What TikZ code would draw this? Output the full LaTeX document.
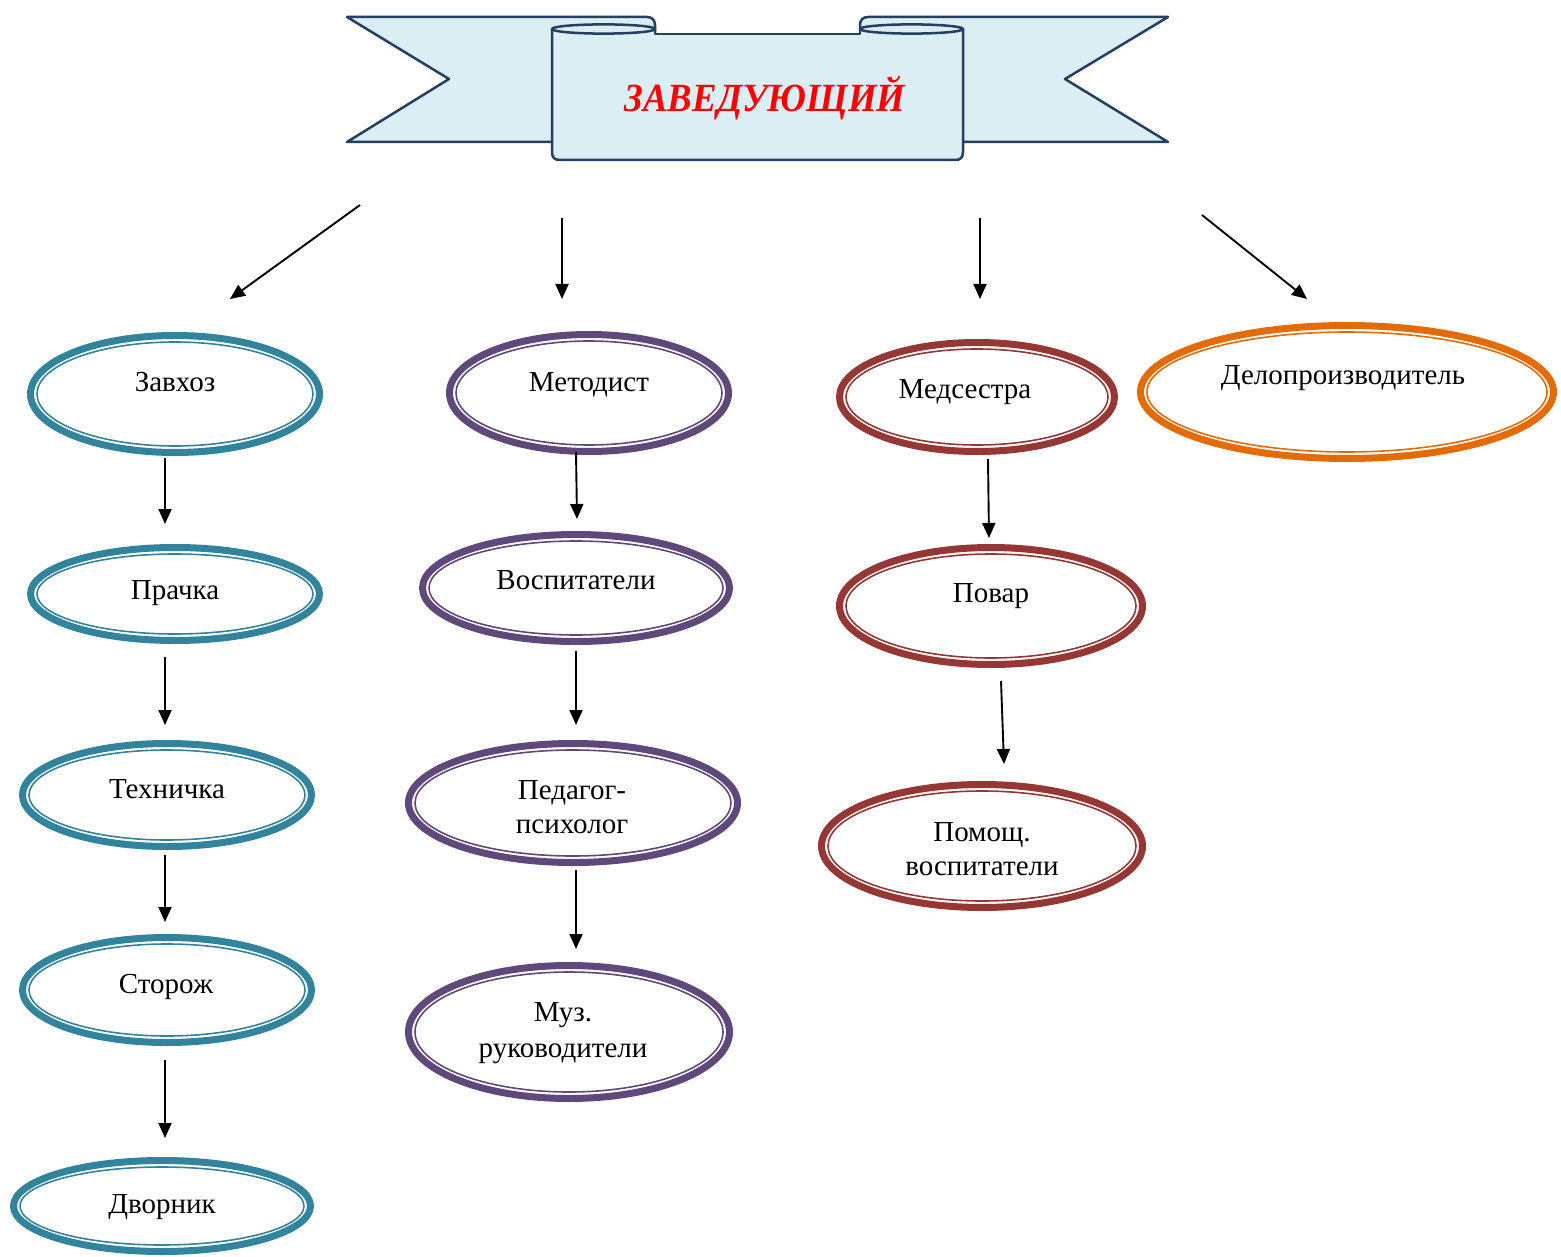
\documentclass[tikz,border=0pt]{standalone}
\usepackage{fontspec}
\setmainfont{Liberation Serif}
\usetikzlibrary{shapes.geometric,arrows.meta,calc}
\definecolor{cteal}{HTML}{31849B}
\definecolor{cpurp}{HTML}{5F497A}
\definecolor{cred}{HTML}{953735}
\definecolor{corng}{HTML}{E36C09}
\definecolor{bfill}{HTML}{DBEEF4}
\definecolor{bline}{HTML}{243F60}
\tikzset{
  oval/.style={ellipse, line width=7pt, inner sep=0pt, fill=white},
  lbl/.style={font=\fontsize{29}{34}\selectfont, align=center, text height=19pt, text depth=0pt, inner sep=0pt},
  arr/.style={-{Triangle[length=15pt,width=13pt]}, line width=1.9pt, black},
  banner/.style={fill=bfill, draw=bline, line width=2.5pt, line join=round},
}
\newcommand\OvalBox[6]{%
  \node[oval, draw=#6, minimum width={2*(#4-3.5)}, minimum height={2*(#5-3.5)}] (#1) at (#2,#3) {};
  \draw[#6, line width=1.6pt] (#1.center) ellipse [x radius=#4-10, y radius=#5-10];
}
\begin{document}
\begin{tikzpicture}[x=1pt,y=-1pt]
\fill[white] (0,0) rectangle (1561,1257);
\useasboundingbox (0,0) rectangle (1561,1257);
% banner back pieces
\path[banner] (347,17) -- (647,17) .. controls (652,17) and (655,20) .. (655,25) -- (655,142) -- (347,142) -- (449,79) -- cycle;
\path[banner] (1168,17) -- (868,17) .. controls (863,17) and (860,20) .. (860,25) -- (860,142) -- (1168,142) -- (1065,79) -- cycle;
% central panel
\fill[bfill] (552,29) -- (552,152) .. controls (552,158) and (555,160) .. (560,160) -- (955,160) .. controls (960,160) and (963,158) .. (963,152) -- (963,29) -- (860,29) -- (860,34) -- (655,34) -- (655,29) -- cycle;
\draw[bline, line width=2.5pt, line join=round] (552,29) -- (552,152) .. controls (552,158) and (555,160) .. (560,160) -- (955,160) .. controls (960,160) and (963,158) .. (963,152) -- (963,29);
\draw[bline, line width=2.5pt, line join=round] (655,25) -- (655,34) -- (860,34) -- (860,25);
\path[banner] (603.5,29) ellipse [x radius=51.5, y radius=4.6];
\path[banner] (911.5,29) ellipse [x radius=51.5, y radius=4.6];
\node[font=\fontsize{40}{40}\selectfont\bfseries\itshape, text=red, text height=27pt, text depth=0pt, inner sep=0pt, xscale=0.92] (head) at (765,98) {ЗАВЕДУЮЩИЙ};

% column 1
\OvalBox{zav}{175}{394}{148}{62}{cteal}
\OvalBox{pra}{175}{594}{148}{50}{cteal}
\OvalBox{teh}{167}{795}{148}{55}{cteal}
\OvalBox{sto}{167}{990}{148}{56}{cteal}
\OvalBox{dvo}{162}{1206}{152}{49}{cteal}
% column 2
\OvalBox{met}{589}{393}{143}{62}{cpurp}
\OvalBox{vos}{576}{588}{157}{57}{cpurp}
\OvalBox{ped}{573}{803}{168}{63}{cpurp}
\OvalBox{muz}{569}{1032}{164}{70}{cpurp}
% column 3
\OvalBox{med}{977}{397}{141}{58}{cred}
\OvalBox{pov}{991}{606}{155}{62}{cred}
\OvalBox{pom}{982}{846}{164}{65}{cred}
% column 4
\OvalBox{del}{1347}{392}{210}{70}{corng}

% labels
\node[lbl] (zav-t) at (175,382) {Завхоз};
\node[lbl] (pra-t) at (175,590) {Прачка};
\node[lbl] (teh-t) at (167,789) {Техничка};
\node[lbl] (sto-t) at (166,984) {Сторож};
\node[lbl] (dvo-t) at (162,1204) {Дворник};
\node[lbl] (met-t) at (589,382) {Методист};
\node[lbl] (vos-t) at (576,580) {Воспитатели};
\node[lbl] (ped-t) at (572,824) {Педагог-\\психолог};
\node[lbl, font=\fontsize{29}{36}\selectfont] (muz-t) at (563,1048) {Муз.\\руководители};
\node[lbl] (med-t) at (965,389) {Медсестра};
\node[lbl] (pov-t) at (991,593) {Повар};
\node[lbl] (pom-t) at (982,866) {Помощ.\\воспитатели};
\node[lbl] (del-t) at (1343,375) {Делопроизводитель};

% arrows from head
\draw[arr] ($(head)+(-405,107)$) -- ($(zav)+(55,-95)$);
\draw[arr] ($(head)+(-203,120)$) -- ($(met)+(-27,-94)$);
\draw[arr] ($(head)+(215,120)$) -- ($(med)+(3,-98)$);
\draw[arr] ($(head)+(437,117)$) -- ($(del)+(-40,-93)$);
% column 1 arrows
\draw[arr] ($(zav)+(-10,64)$) -- ($(pra)+(-10,-70)$);
\draw[arr] ($(pra)+(-10,63)$) -- ($(teh)+(-2,-70)$);
\draw[arr] ($(teh)+(-2,60)$) -- ($(sto)+(-2,-68)$);
\draw[arr] ($(sto)+(-2,70)$) -- ($(dvo)+(3,-68)$);
% column 2 arrows
\draw[arr] ($(met)+(-13,59)$) -- ($(vos)+(1,-69)$);
\draw[arr] ($(vos)+(0,63)$) -- ($(ped)+(3,-78)$);
\draw[arr] ($(ped)+(3,67)$) -- ($(muz)+(7,-83)$);
% column 3 arrows
\draw[arr] ($(med)+(11,62)$) -- ($(pov)+(-2,-68)$);
\draw[arr] ($(pov)+(10,75)$) -- ($(pom)+(22,-82)$);
\end{tikzpicture}
\end{document}
